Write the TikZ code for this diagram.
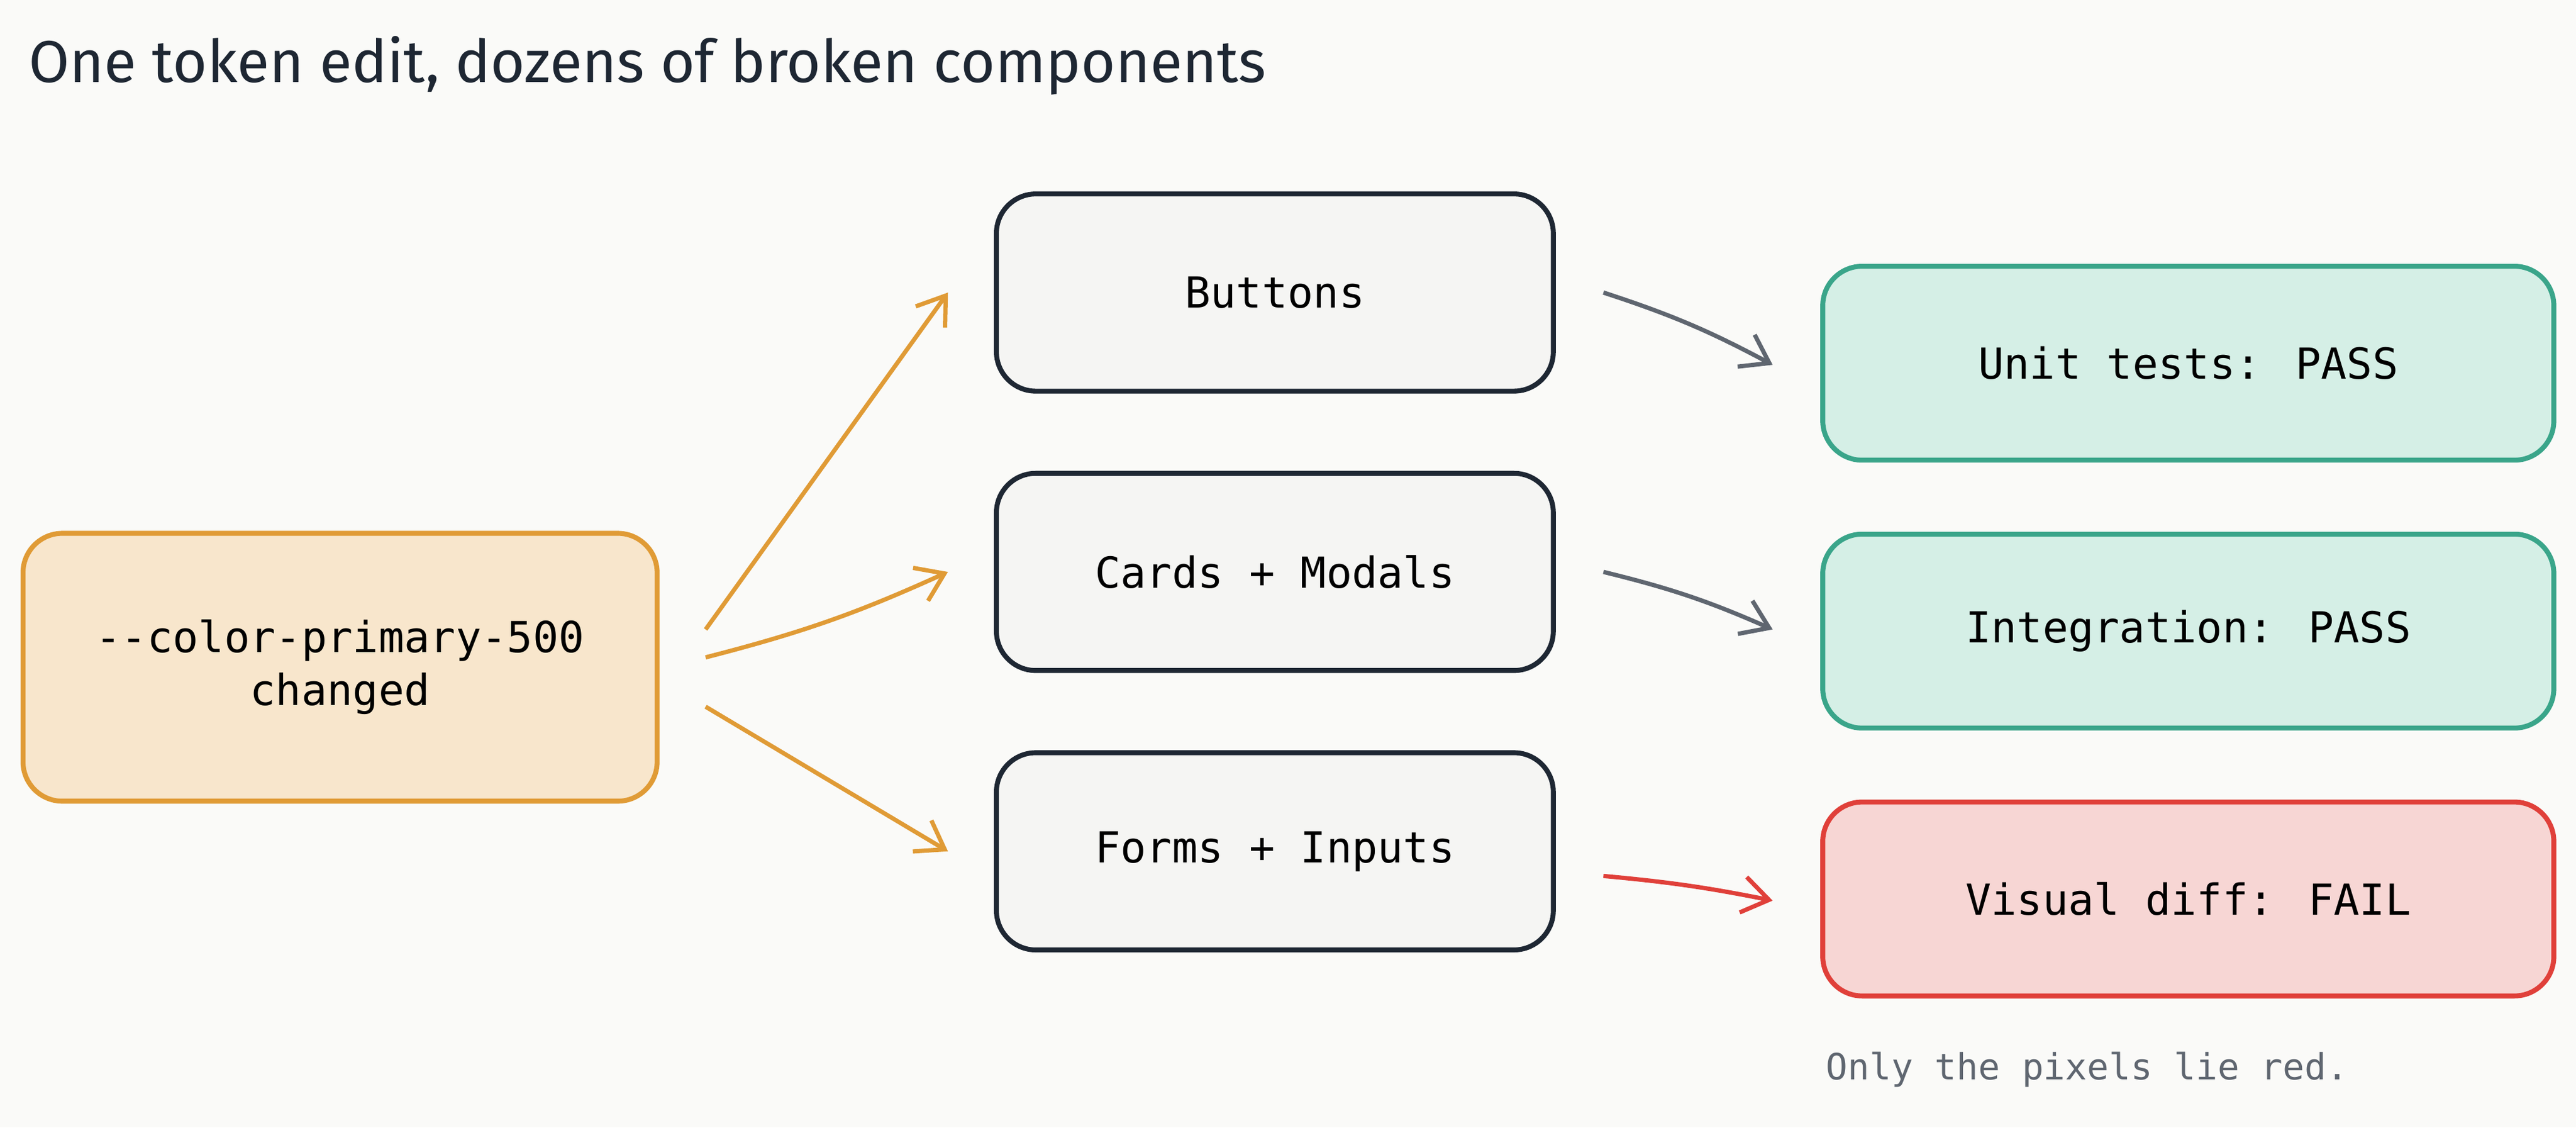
\documentclass[tikz,border=0pt]{standalone}
\usepackage{fontspec}
\setmainfont{DejaVu Sans Mono}
\newfontfamily\titlefont{Fira Sans}
\usetikzlibrary{arrows.meta}
\definecolor{bg}{HTML}{FAFAF8}
\definecolor{srcfill}{HTML}{F8E6CC}
\definecolor{srcline}{HTML}{E09B36}
\definecolor{compfill}{HTML}{F5F5F3}
\definecolor{compline}{HTML}{1E2733}
\definecolor{passfill}{HTML}{D5EFE6}
\definecolor{passline}{HTML}{3AA58A}
\definecolor{failfill}{HTML}{F7D6D4}
\definecolor{failline}{HTML}{E0403A}
\definecolor{gray}{HTML}{5F6670}
\begin{document}
\begin{tikzpicture}[x=1pt,y=-1pt,
  box/.style={draw, line width=3pt, rounded corners=24pt, inner sep=0pt, align=center, font=\fontsize{26}{32}\selectfont},
  src/.style={box, fill=srcfill, draw=srcline, minimum width=386pt, minimum height=163pt},
  comp/.style={box, fill=compfill, draw=compline, minimum width=339pt, minimum height=120pt},
  pass/.style={box, fill=passfill, draw=passline, minimum width=445pt, minimum height=118pt},
  fail/.style={box, fill=failfill, draw=failline, minimum width=445pt, minimum height=118pt},
  arr/.style={line width=2.6pt, -{Straight Barb[length=16pt,width=22pt,line width=2.6pt]}}]
\fill[bg] (0,0) rectangle (1568,686);
\useasboundingbox (0,0) rectangle (1568,686);
\node[anchor=west, font=\titlefont\fontsize{36}{40}\selectfont, text=compline] (title) at (14,40) {One token edit, dozens of broken components};
\node[src] (s) at (207,406) {-{}-color-primary-500\\changed};
\node[comp] (b) at (776,178) {Buttons};
\node[comp] (c) at (776,348) {Cards + Modals};
\node[comp] (f) at (776,518) {Forms + Inputs};
\node[pass] (u) at (1332,221) {Unit tests: PASS};
\node[pass] (i) at (1332,384) {Integration: PASS};
\node[fail] (v) at (1332,547) {Visual diff: FAIL};
\node[anchor=west, text=gray, font=\fontsize{22}{26}\selectfont] (note) at (1108,651) {Only the pixels lie red.};
\draw[arr, srcline] ([shift={(28,-23)}]s.east) -- ([shift={(-28,0)}]b.west);
\draw[arr, srcline] ([shift={(28,-6)}]s.east) to[bend right=5] ([shift={(-28,0)}]c.west);
\draw[arr, srcline] ([shift={(28,24)}]s.east) -- ([shift={(-28,0)}]f.west);
\draw[arr, gray] ([shift={(29,0)}]b.east) to[bend left=5] ([shift={(-29,1)}]u.west);
\draw[arr, gray] ([shift={(29,0)}]c.east) to[bend left=5] ([shift={(-29,-1)}]i.west);
\draw[arr, failline] ([shift={(29,15)}]f.east) to[bend left=3] ([shift={(-29,1)}]v.west);
\end{tikzpicture}
\end{document}
